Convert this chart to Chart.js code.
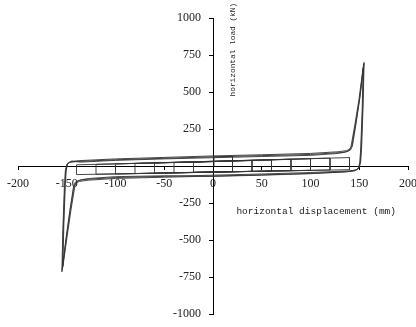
<!DOCTYPE html>
<html>
<head>
<meta charset="utf-8">
<script src="https://cdn.jsdelivr.net/npm/chart.js@4"></script>
<style>
  html, body { margin: 0; padding: 0; background: #fff; }
  #wrap { width: 416px; height: 327px; }
</style>
</head>
<body>
<div id="wrap"><canvas id="hysteresisChart" width="416" height="327"></canvas></div>
<script>
// tick labels
const xTicks = [-200, -150, -100, -50, 0, 50, 100, 150, 200];
const yTicks = [-1000, -750, -500, -250, 0, 250, 500, 750, 1000];

// small cycles, amplitude 20 ... 140 mm
const smallX = [0, 1, 20, 20, -20, -20, 40, 40, -40, -40, 60, 60, -60, -60, 80, 80, -80, -80,
  100, 100, -100, -100, 120, 120, -120, -120, 140, 140, -140, -140, 0];
const smallY = [0, 62, 64, -38, -42, 26, 37, -36, -45, 23, 41, -34, -48, 20, 45, -31, -51, 17,
  49, -29, -54, 14, 53, -27, -56, 11, 57, -25, -58, 8, 30];

// large cycles with hardening at the ends
const big1X = [0, 50, 100, 130, 138, 141, 143, 147, 151, 155, 154, 152.5, 151.5, 150, 147, 140, 100, 50, 0,
  -50, -100, -130, -138, -141, -143, -147, -151, -155, -154, -152.5, -151.5, -150, -147, -140, -100, -50, 0];
const big1Y = [62, 70, 78, 90, 98, 108, 135, 300, 480, 700, 420, 135, 30, -10, -26, -33, -44, -54, -62,
  -70, -78, -90, -98, -108, -135, -310, -500, -715, -430, -150, -35, 10, 24, 30, 42, 52, 62];

const big2X = [0, 50, 100, 128, 137, 140.5, 142.5, 146.5, 150.5, 154.5, 153.5, 152, 151, 149.5, 146, 138, 100, 50, 0,
  -50, -100, -128, -137, -140.5, -142.5, -146.5, -150.5, -154.5, -153.5, -152, -151, -149.5, -146, -138, -100, -50, 0];
const big2Y = [68, 76, 85, 96, 104, 115, 140, 290, 460, 690, 400, 130, 25, -14, -30, -38, -50, -60, -68,
  -76, -84, -96, -104, -115, -140, -300, -490, -700, -420, -140, -30, 14, 30, 36, 48, 58, 68];

const big3X = [0, 50, 100, 126, 135, 139, 141.5, 145.5, 149.5, 154, 153, 151.5, 150.5, 149, 145, 136, 100, 50, 0,
  -50, -100, -126, -135, -139, -141.5, -145.5, -149.5, -154, -153, -151.5, -150.5, -149, -145, -136, -100, -50, 0];
const big3Y = [56, 64, 72, 84, 92, 102, 128, 280, 440, 665, 380, 120, 20, -18, -33, -40, -52, -62, -70,
  -66, -72, -84, -92, -102, -128, -290, -470, -680, -400, -130, -28, 18, 33, 26, 38, 48, 56];

function toPoints(xs, ys) {
  return xs.map((x, i) => ({ x: x, y: ys[i] }));
}

function loopSet(xs, ys) {
  return {
    data: toPoints(xs, ys),
    showLine: true,
    borderColor: '#333',
    borderWidth: 0.9,
    pointRadius: 0,
    tension: 0,
    fill: false
  };
}

// axis titles drawn beside the crossing axes
const axisTitles = {
  id: 'axisTitles',
  afterDraw(chart) {
    const ctx = chart.ctx;
    const sx = chart.scales.x;
    const sy = chart.scales.y;
    ctx.save();
    ctx.fillStyle = '#1a1a1a';
    ctx.textBaseline = 'middle';
    ctx.textAlign = 'left';
    ctx.font = '9.5px "Liberation Mono"';
    ctx.fillText('horizontal displacement (mm)', sx.getPixelForValue(24), sy.getPixelForValue(-305));
    ctx.translate(sx.getPixelForValue(20), sy.getPixelForValue(470));
    ctx.rotate(-Math.PI / 2);
    ctx.font = '7.8px "Liberation Mono"';
    ctx.fillText('horizontal load (kN)', 0, 0);
    ctx.restore();
  }
};

const tickFont = { family: '"Liberation Serif", "Times New Roman", serif', size: 12 };

// no extra room for the end labels, the axes cross in the middle
function noOverflow(s) {
  s.paddingLeft = 0;
  s.paddingRight = 0;
  s.paddingTop = 0;
  s.paddingBottom = 0;
}

new Chart(document.getElementById('hysteresisChart'), {
  type: 'scatter',
  data: {
    datasets: [
      loopSet(smallX, smallY),
      loopSet(big1X, big1Y),
      loopSet(big2X, big2Y),
      loopSet(big3X, big3Y)
    ]
  },
  options: {
    responsive: false,
    animation: false,
    layout: { padding: { left: 18, right: 8, top: 18, bottom: 13 } },
    plugins: { legend: { display: false }, tooltip: { enabled: false } },
    scales: {
      x: {
        type: 'linear',
        position: { y: 0 },
        min: -200,
        max: 200,
        afterBuildTicks: (s) => { s.ticks = xTicks.map(v => ({ value: v })); },
        afterFit: noOverflow,
        grid: { drawOnChartArea: false, drawTicks: true, tickLength: 3, color: '#000' },
        border: { color: '#000', width: 1 },
        ticks: { color: '#222', font: tickFont, padding: 8, maxRotation: 0, autoSkip: false,
          callback: (v) => String(v) }
      },
      y: {
        type: 'linear',
        position: { x: 0 },
        min: -1000,
        max: 1000,
        afterBuildTicks: (s) => { s.ticks = yTicks.map(v => ({ value: v })); },
        afterFit: noOverflow,
        grid: { drawOnChartArea: false, drawTicks: true, tickLength: 4, color: '#000' },
        border: { color: '#000', width: 1 },
        // trailing spaces keep the labels clear of the centred axis
        ticks: { color: '#222', font: tickFont, autoSkip: false,
          callback: (v) => (v === 0 ? '' : String(v) + '    ') }
      }
    }
  },
  plugins: [axisTitles]
});
</script>
</body>
</html>
